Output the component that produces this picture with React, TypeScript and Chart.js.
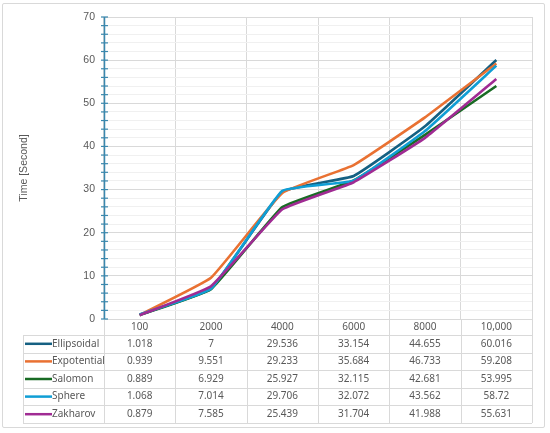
import React, { useEffect, useRef } from 'react';
import { Chart, registerables } from 'chart.js';

Chart.register(...registerables);

// problem sizes (x categories)
const sizes = ['100', '2000', '4000', '6000', '8000', '10,000'];

// run time in seconds per test function
const ellipsoidal = [1.018, 7, 29.536, 33.154, 44.655, 60.016];
const expotential = [0.939, 9.551, 29.233, 35.684, 46.733, 59.208];
const salomon = [0.889, 6.929, 25.927, 32.115, 42.681, 53.995];
const sphere = [1.068, 7.014, 29.706, 32.072, 43.562, 58.72];
const zakharov = [0.879, 7.585, 25.439, 31.704, 41.988, 55.631];

const seriesNames = ['Ellipsoidal', 'Expotential', 'Salomon', 'Sphere', 'Zakharov'];
const seriesValues = [ellipsoidal, expotential, salomon, sphere, zakharov];
const seriesColors = ['#156082', '#E97132', '#196B24', '#0F9ED5', '#A02B93'];

const yMax = 70;
const yStep = 2;
const yLabelStep = 10;

const AXIS_BLUE = '#3A88AE';
const GRID = '#D9D9D9';
const TEXT = '#595959';
const TABLE_FONT = '10px "Noto Sans", "Liberation Sans", sans-serif';

// draws the y axis with its crossing tick marks and the Excel-style data table
const tablePlugin = {
  id: 'dataTable',
  afterDraw(chart: Chart) {
    const { ctx, chartArea } = chart;
    const x = chart.scales.x;
    const y = chart.scales.y;
    const half = (x.getPixelForValue(1) - x.getPixelForValue(0)) / 2;
    const edges = sizes.map((_, i) => x.getPixelForValue(i) - half);
    edges.push(x.getPixelForValue(sizes.length - 1) + half);

    const tableTop = x.bottom;
    const tableBottom = chart.height - 10;
    const tableLeft = 23;
    const rowH = (tableBottom - tableTop) / seriesNames.length;

    ctx.save();
    ctx.strokeStyle = GRID;
    ctx.lineWidth = 1;

    // vertical lines through header + table
    edges.forEach((ex) => {
      ctx.beginPath();
      ctx.moveTo(Math.round(ex) + 0.5, chartArea.bottom);
      ctx.lineTo(Math.round(ex) + 0.5, tableBottom);
      ctx.stroke();
    });
    ctx.beginPath();
    ctx.moveTo(tableLeft + 0.5, tableTop);
    ctx.lineTo(tableLeft + 0.5, tableBottom);
    ctx.stroke();

    // horizontal row lines
    for (let r = 0; r <= seriesNames.length; r++) {
      const ry = Math.round(tableTop + r * rowH) + 0.5;
      ctx.beginPath();
      ctx.moveTo(tableLeft, ry);
      ctx.lineTo(edges[edges.length - 1], ry);
      ctx.stroke();
    }

    // rows
    ctx.font = TABLE_FONT;
    ctx.textBaseline = 'middle';
    seriesNames.forEach((name, r) => {
      const cy = tableTop + r * rowH + rowH / 2;
      ctx.strokeStyle = seriesColors[r];
      ctx.lineWidth = 2.5;
      ctx.beginPath();
      ctx.moveTo(tableLeft + 2, cy);
      ctx.lineTo(tableLeft + 29, cy);
      ctx.stroke();
      ctx.fillStyle = TEXT;
      ctx.textAlign = 'left';
      ctx.fillText(name, tableLeft + 29, cy);
      ctx.textAlign = 'center';
      seriesValues[r].forEach((v, i) => {
        ctx.fillText(String(v), x.getPixelForValue(i), cy);
      });
    });

    // y axis line and tick marks
    const ax = Math.round(chartArea.left) + 0.5;
    ctx.strokeStyle = AXIS_BLUE;
    ctx.lineWidth = 1.5;
    ctx.beginPath();
    ctx.moveTo(ax, y.getPixelForValue(yMax));
    ctx.lineTo(ax, y.getPixelForValue(0));
    ctx.stroke();
    ctx.lineWidth = 1.2;
    for (let v = 0; v <= yMax; v += yStep) {
      const ty = y.getPixelForValue(v);
      ctx.beginPath();
      ctx.moveTo(ax - 3.5, ty);
      ctx.lineTo(ax + 3.5, ty);
      ctx.stroke();
    }
    ctx.restore();
  },
};

const App: React.FC = () => {
  const canvasRef = useRef<HTMLCanvasElement | null>(null);

  useEffect(() => {
    const ctx = canvasRef.current?.getContext('2d');
    if (!ctx) return;

    const chart = new Chart(ctx, {
      type: 'line',
      data: {
        labels: sizes,
        datasets: seriesNames.map((name, i) => ({
          label: name,
          data: seriesValues[i],
          borderColor: seriesColors[i],
          backgroundColor: seriesColors[i],
          borderWidth: 2.6,
          pointRadius: 0,
          tension: 0.1,
          fill: false,
          order: seriesNames.length - i, // later series on top, as in Excel
        })),
      },
      options: {
        responsive: false,
        animation: false,
        layout: { padding: { left: 0, top: 17, right: 18, bottom: 98 } },
        plugins: {
          legend: { display: false },
          tooltip: { enabled: false },
        },
        scales: {
          x: {
            offset: true,
            grid: { offset: true, color: GRID, drawTicks: false },
            border: { color: GRID },
            ticks: {
              color: TEXT,
              font: { family: '"Noto Sans", "Liberation Sans", sans-serif', size: 10 },
              padding: 2,
              maxRotation: 0,
            },
            afterFit: (scale: any) => {
              scale.height = 16;
            },
          },
          y: {
            min: 0,
            max: yMax,
            ticks: {
              stepSize: yStep,
              autoSkip: false,
              color: TEXT,
              padding: 9,
              font: { family: '"Liberation Sans", Arial, sans-serif', size: 10.5 },
              callback: (v: any) => (Number(v) % yLabelStep === 0 ? String(v) : ''),
            },
            grid: {
              drawTicks: false,
              color: (c: any) => (c.tick && c.tick.value % yLabelStep === 0 ? GRID : '#F0F0F0'),
            },
            border: { display: false },
            title: {
              display: true,
              text: 'Time [Second]',
              color: TEXT,
              font: { family: '"Liberation Sans", Arial, sans-serif', size: 10.5 },
              padding: { top: 18, bottom: 4 },
            },
            afterFit: (scale: any) => {
              scale.width = 104;
            },
          },
        },
      },
      plugins: [tablePlugin],
    });

    return () => chart.destroy();
  }, []);

  return (
    <div style={{ position: 'absolute', left: 0, top: 0, width: 550, height: 433, background: '#fff' }}>
      <div
        style={{
          position: 'absolute',
          left: 2,
          top: 3,
          width: 543,
          height: 425,
          border: '1px solid #D9D9D9',
          borderRadius: 2,
          boxSizing: 'border-box',
        }}
      />
      <canvas ref={canvasRef} width={550} height={433} style={{ position: 'absolute', left: 0, top: 0 }} />
    </div>
  );
};

export default App;
